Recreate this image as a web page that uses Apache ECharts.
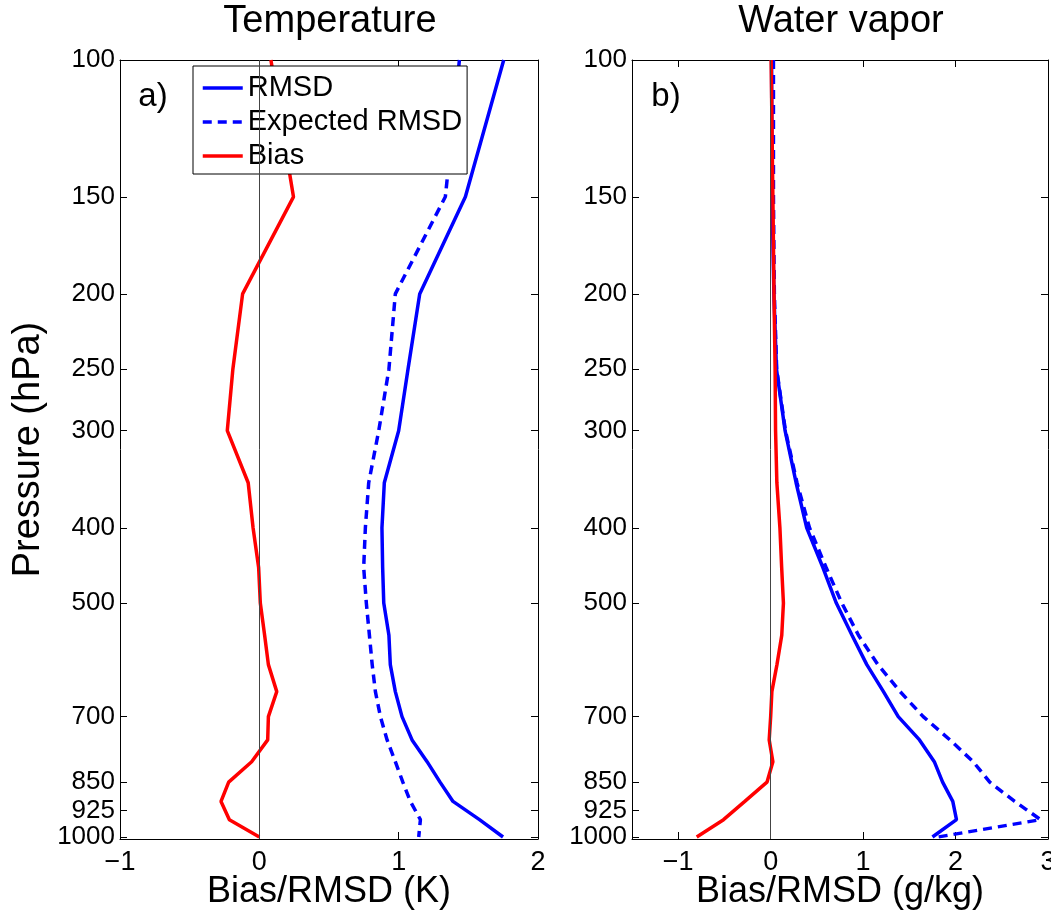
<!DOCTYPE html>
<html>
<head>
<meta charset="utf-8">
<script src="https://cdn.jsdelivr.net/npm/echarts@6/dist/echarts.min.js"></script>
<style>
html,body{margin:0;padding:0;background:#fff;}
#chart{width:1051px;height:913px;}
</style>
</head>
<body>
<div id="chart"></div>
<script>
// ---- data ----
var levels = [100,150,200,250,300,350,400,450,500,550,600,650,700,750,800,850,900,950,1000];
var pressureTicks = [100,150,200,250,300,400,500,700,850,925,1000];

var tempRMSD    = [1.754,1.479,1.151,1.067,1.000,0.897,0.880,0.885,0.893,0.930,0.940,0.976,1.024,1.096,1.204,1.297,1.390,1.580,1.749];
var tempExpRMSD = [1.436,1.335,0.976,0.930,0.857,0.785,0.761,0.749,0.768,0.790,0.810,0.833,0.869,0.917,0.976,1.030,1.084,1.156,1.144];
var tempBias    = [0.083,0.245,-0.120,-0.190,-0.230,-0.080,-0.045,-0.005,0.007,0.038,0.065,0.125,0.065,0.060,-0.055,-0.220,-0.275,-0.215,0.000];

var wvRMSD    = [0.010,0.015,0.035,0.063,0.156,0.275,0.390,0.565,0.710,0.880,1.040,1.220,1.380,1.610,1.770,1.860,1.970,2.010,1.750];
var wvExpRMSD = [0.030,0.030,0.040,0.065,0.160,0.285,0.420,0.600,0.770,0.950,1.160,1.400,1.650,1.940,2.190,2.370,2.640,2.920,1.810];
var wvBias    = [0.005,0.024,0.036,0.048,0.053,0.067,0.100,0.119,0.138,0.120,0.068,0.013,0.000,-0.016,0.024,-0.040,-0.280,-0.510,-0.800];

var tempXTicks = [-1,0,1,2];
var wvXTicks = [-1,0,1,2,3];

var seriesNames = ['RMSD','Expected RMSD','Bias'];
var panelTitles = ['Temperature','Water vapor'];
var panelLetters = ['a)','b)'];
var xNames = ['Bias/RMSD (K)','Bias/RMSD (g/kg)'];
var yName = 'Pressure (hPa)';

// ---- build ----
function pairs(xs){ return xs.map(function(v,i){ return [v, levels[i]]; }); }
var FONT = '"Liberation Sans", Arial, Helvetica, sans-serif';
var PMIN = 100, PMAX = 1006;

function fmtX(v){ return v < 0 ? '\u2212' + Math.abs(v) : String(v); }

var grids = [
  {left:120, top:60, width:418, height:779, show:false, containLabel:false, outerBoundsMode:'none'},
  {left:632, top:60, width:416, height:779, show:false, containLabel:false, outerBoundsMode:'none'}
];

function xAxisPair(gi, min, max, ticks, name){
  var common = {
    type:'value', gridIndex:gi, min:min, max:max,
    axisLine:{show:true, onZero:false, lineStyle:{color:'#000', width:1}},
    axisTick:{show:true, inside:true, length:7, customValues:ticks, lineStyle:{color:'#000', width:1}},
    splitLine:{show:false}
  };
  var bottom = Object.assign({}, common, {
    position:'bottom',
    name:name, nameLocation:'middle', nameGap:35, nameMoveOverlap:false,
    nameTextStyle:{fontFamily:FONT, fontSize:36, color:'#000'},
    axisLabel:{show:true, hideOverlap:false, showMinLabel:true, showMaxLabel:true, customValues:ticks, margin:10, fontFamily:FONT, fontSize:27, color:'#000', formatter:fmtX}
  });
  var top = Object.assign({}, common, {position:'top', axisLabel:{show:false}});
  return [bottom, top];
}

function yAxisPair(gi, withLabels){
  var common = {
    type:'log', logBase:10, gridIndex:gi, min:PMIN, max:PMAX, inverse:true,
    axisLine:{show:true, onZero:false, lineStyle:{color:'#000', width:1}},
    axisTick:{show:true, inside:true, length:7, customValues:pressureTicks, lineStyle:{color:'#000', width:1}},
    splitLine:{show:false}, minorTick:{show:false}
  };
  var left = Object.assign({}, common, {
    position:'left',
    axisLabel:{show:true, hideOverlap:false, customValues:pressureTicks, margin:5,
      fontFamily:FONT, fontSize:26, color:'#000',
      formatter:function(v){ return String(Math.round(v)); }}
  });
  if (withLabels){
    left.name = yName; left.nameLocation = 'middle'; left.nameGap = 72; left.nameMoveOverlap = false;
    left.nameTextStyle = {fontFamily:FONT, fontSize:38, color:'#000'};
  }
  var right = Object.assign({}, common, {position:'right', axisLabel:{show:false}});
  return [left, right];
}

var xa = xAxisPair(0, -1, 2, tempXTicks, xNames[0]);
var xb = xAxisPair(1, -1.5, 3, wvXTicks, xNames[1]);
var ya = yAxisPair(0, true);
var yb = yAxisPair(1, false);

function lineSeries(name, data, xi, yi, color, dashed, zeroLine){
  var s = {
    type:'line', name:name, data:pairs(data), xAxisIndex:xi, yAxisIndex:yi,
    symbol:'none', showSymbol:false, animation:false, smooth:false,
    lineStyle:{color:color, width:3.5, type: dashed ? [9,6] : 'solid'},
    itemStyle:{color:color}
  };
  if (zeroLine){
    s.markLine = {
      silent:true, symbol:['none','none'], animation:false,
      label:{show:false},
      lineStyle:{color:'#444', width:1, type:'solid'},
      emphasis:{disabled:true},
      data:[{xAxis:0}]
    };
  }
  return s;
}

var series = [
  lineSeries(seriesNames[0], tempRMSD, 0, 0, '#0000ff', false, false),
  lineSeries(seriesNames[1], tempExpRMSD, 0, 0, '#0000ff', true, false),
  lineSeries(seriesNames[2], tempBias, 0, 0, '#ff0000', false, true),
  lineSeries(seriesNames[0], wvRMSD, 2, 2, '#0000ff', false, false),
  lineSeries(seriesNames[1], wvExpRMSD, 2, 2, '#0000ff', true, false),
  lineSeries(seriesNames[2], wvBias, 2, 2, '#ff0000', false, true)
];

var option = {
  backgroundColor:'#ffffff',
  animation:false,
  grid: grids,
  xAxis: [xa[0], xa[1], xb[0], xb[1]],
  yAxis: [ya[0], ya[1], yb[0], yb[1]],
  legend: {
    show:true, data:seriesNames, orient:'vertical', left:193, top:66,
    itemWidth:40, itemHeight:14, itemGap:4,
    padding:[7,5,3,8],
    backgroundColor:'#fff', borderColor:'#000', borderWidth:1, borderRadius:0,
    selectedMode:false,
    itemStyle:{opacity:0},
    lineStyle:{width:3.5},
    textStyle:{fontFamily:FONT, fontSize:29, color:'#000', lineHeight:30}
  },
  graphic: [
    {type:'text', x:330, y:22, style:{text:panelTitles[0], fontFamily:FONT, fontSize:38, fill:'#000', align:'center', verticalAlign:'middle'}},
    {type:'text', x:841, y:22, style:{text:panelTitles[1], fontFamily:FONT, fontSize:38, fill:'#000', align:'center', verticalAlign:'middle'}},
    {type:'text', x:153, y:97, style:{text:panelLetters[0], fontFamily:FONT, fontSize:33, fill:'#000', align:'center', verticalAlign:'middle'}},
    {type:'text', x:666, y:97, style:{text:panelLetters[1], fontFamily:FONT, fontSize:33, fill:'#000', align:'center', verticalAlign:'middle'}}
  ],
  series: series
};

var chart = echarts.init(document.getElementById('chart'), null, {renderer:'canvas'});
chart.setOption(option);
</script>
</body>
</html>
